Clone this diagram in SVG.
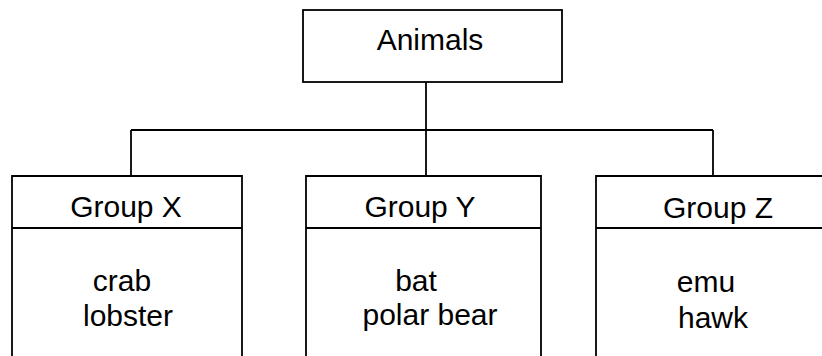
<svg xmlns="http://www.w3.org/2000/svg" width="822" height="356" viewBox="0 0 822 356">
<style>
.box{fill:none;stroke:#000;stroke-width:1.8}
.ln{fill:none;stroke:#000;stroke-width:1.8}
.t{font-family:"Liberation Sans",Arial,sans-serif;font-size:30px;fill:#000;text-anchor:middle}
</style>
<rect width="822" height="356" fill="#fff"/>
<g id="connectors">
<path class="ln" d="M426 82 V176"/>
<path class="ln" d="M131 130 H713"/>
<path class="ln" d="M131 130 V176"/>
<path class="ln" d="M713 130 V176"/>
</g>
<g id="animals">
<rect class="box" x="303" y="10" width="259" height="72"/>
<text class="t" x="430" y="50" font-size="31">Animals</text>
</g>
<g id="groupX">
<path class="box" d="M12 360 V176 H242 V360"/>
<path class="ln" d="M12 228 H242"/>
<text class="t" x="126" y="217">Group X</text>
<text class="t" x="122" y="291">crab</text>
<text class="t" x="128" y="326">lobster</text>
</g>
<g id="groupY">
<path class="box" d="M306 360 V176 H541 V360"/>
<path class="ln" d="M306 228 H541"/>
<text class="t" x="420" y="217">Group Y</text>
<text class="t" x="416" y="291">bat</text>
<text class="t" x="430" y="325">polar bear</text>
</g>
<g id="groupZ">
<path class="box" d="M596 360 V176 H830"/>
<path class="ln" d="M596 228 H830"/>
<text class="t" x="718" y="218">Group Z</text>
<text class="t" x="706" y="292">emu</text>
<text class="t" x="713" y="328">hawk</text>
</g>
</svg>
